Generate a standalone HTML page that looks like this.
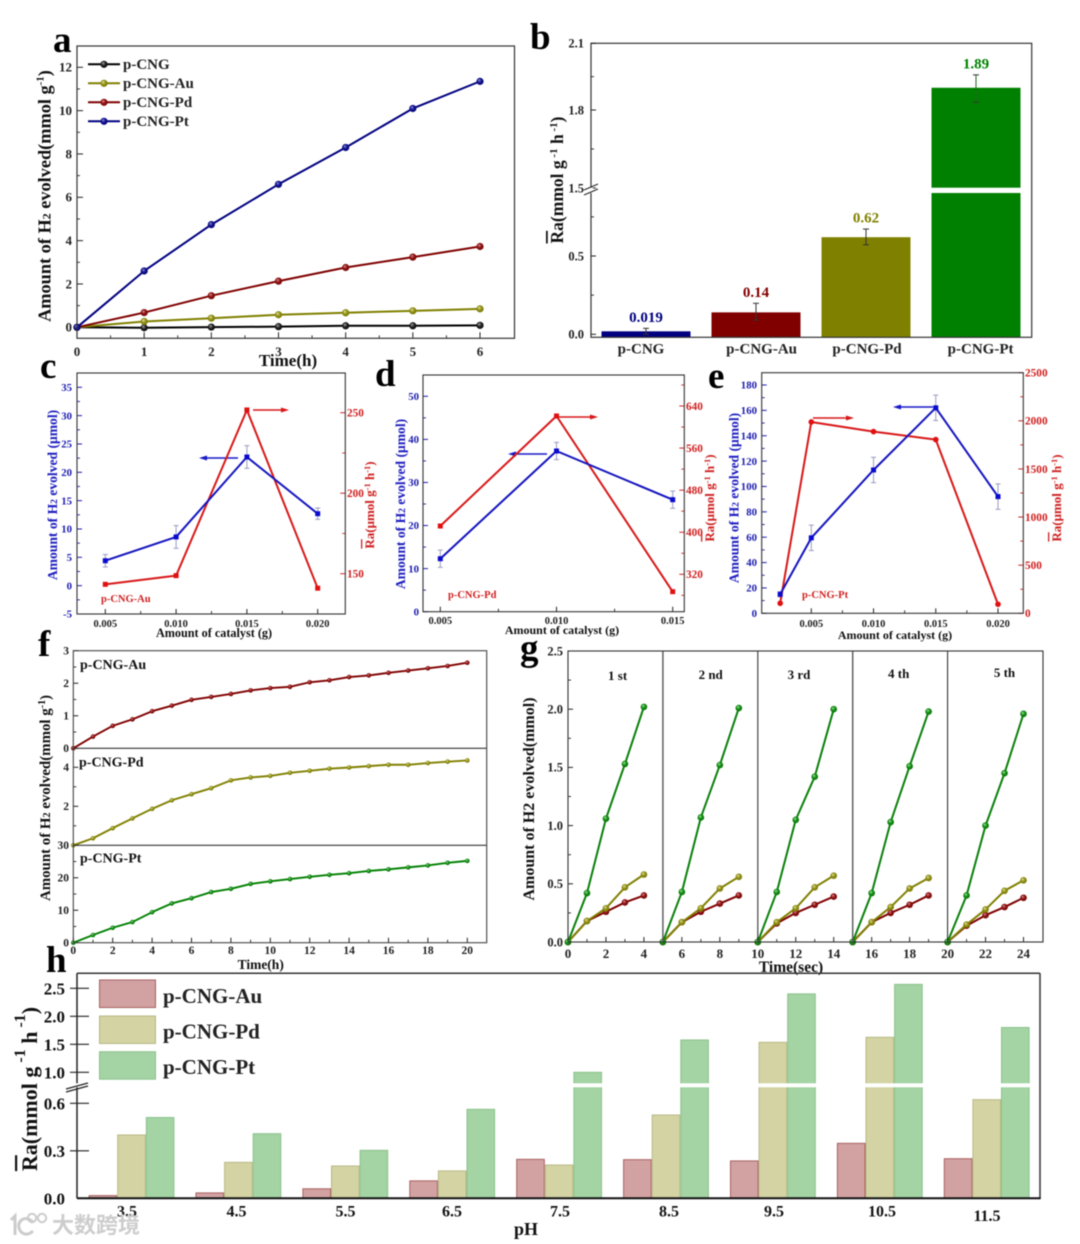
<!DOCTYPE html>
<html lang="en">
<head>
<meta charset="utf-8">
<title>Photocatalytic hydrogen evolution figure</title>
<style>
html,body{margin:0;padding:0;background:#fff;}
#figure{display:block;width:1080px;height:1244px;background:#fff;filter:blur(0.4px);}
#figure text{font-family:"Liberation Serif","Noto Serif CJK SC",serif;font-weight:bold;}
#figure text.wm{font-family:"Liberation Sans","Noto Sans CJK SC",sans-serif;font-weight:bold;}
</style>
</head>
<body>
<svg id="figure" xmlns="http://www.w3.org/2000/svg" width="1080" height="1244" viewBox="0 0 1080 1244">
<defs>
<radialGradient id="sphere-navy" cx="50%" cy="50%" r="60%" fx="35%" fy="30%"><stop offset="0" stop-color="#8f8fe0"/><stop offset="0.5" stop-color="#10108c"/><stop offset="1" stop-color="#000070"/></radialGradient>
<radialGradient id="sphere-maroon" cx="50%" cy="50%" r="60%" fx="35%" fy="30%"><stop offset="0" stop-color="#e09090"/><stop offset="0.5" stop-color="#8c1010"/><stop offset="1" stop-color="#700000"/></radialGradient>
<radialGradient id="sphere-olive" cx="50%" cy="50%" r="60%" fx="35%" fy="30%"><stop offset="0" stop-color="#e6e6a0"/><stop offset="0.5" stop-color="#8f8f14"/><stop offset="1" stop-color="#707000"/></radialGradient>
<radialGradient id="sphere-green" cx="50%" cy="50%" r="60%" fx="35%" fy="30%"><stop offset="0" stop-color="#a0e6a0"/><stop offset="0.5" stop-color="#128c12"/><stop offset="1" stop-color="#006c00"/></radialGradient>
<radialGradient id="sphere-black" cx="50%" cy="50%" r="60%" fx="35%" fy="30%"><stop offset="0" stop-color="#aaaaaa"/><stop offset="0.5" stop-color="#222222"/><stop offset="1" stop-color="#000000"/></radialGradient>
</defs>

<g id="panel-a">
<text x="53" y="52" font-size="37">a</text>
<text transform="translate(50.5,196) rotate(-90)" text-anchor="middle" font-size="18.3" fill="#111">Amount of H<tspan font-size="12">2</tspan> evolved(mmol g<tspan dy="-7" font-size="11">-1</tspan><tspan dy="7">)</tspan></text>
<text x="288" y="366" text-anchor="middle" font-size="17" fill="#111">Time(h)</text>
<g>
<line x1="88" y1="64.3" x2="120" y2="64.3" stroke="#000" stroke-width="2"/>
<circle cx="104" cy="64.3" r="3.6" fill="url(#sphere-black)"/>
<text x="123" y="68.8" font-size="15" fill="#222">p-CNG</text>
<line x1="88" y1="83.3" x2="120" y2="83.3" stroke="#808000" stroke-width="2"/>
<circle cx="104" cy="83.3" r="3.6" fill="url(#sphere-olive)"/>
<text x="123" y="87.8" font-size="15" fill="#222">p-CNG-Au</text>
<line x1="88" y1="102.3" x2="120" y2="102.3" stroke="#800000" stroke-width="2"/>
<circle cx="104" cy="102.3" r="3.6" fill="url(#sphere-maroon)"/>
<text x="123" y="106.8" font-size="15" fill="#222">p-CNG-Pd</text>
<line x1="88" y1="121.3" x2="120" y2="121.3" stroke="#000080" stroke-width="2"/>
<circle cx="104" cy="121.3" r="3.6" fill="url(#sphere-navy)"/>
<text x="123" y="125.8" font-size="15" fill="#222">p-CNG-Pt</text>
</g>
</g>

<g id="panel-b">
<text x="530" y="49" font-size="37">b</text>
<text transform="translate(563,180) rotate(-90)" text-anchor="middle" font-size="17.5" fill="#111"><tspan style="text-decoration:overline">R</tspan>a(mmol g<tspan dy="-6" font-size="11"> -1</tspan><tspan dy="6"> h</tspan><tspan dy="-6" font-size="11"> -1</tspan><tspan dy="6">)</tspan></text>
</g>

<g id="panel-c">
<text x="40" y="378" font-size="37">c</text>
<text transform="translate(57,495) rotate(-90)" text-anchor="middle" font-size="13.6" fill="#1c1cc0">Amount of  H<tspan font-size="9.5">2</tspan> evolved (μmol)</text>
<text transform="translate(374,505) rotate(-90)" text-anchor="middle" font-size="13" fill="#d02020"><tspan style="text-decoration:overline">R</tspan>a(μmol g<tspan dy="-4" font-size="8.5">-1</tspan><tspan dy="4"> h</tspan><tspan dy="-4" font-size="8.5">-1</tspan><tspan dy="4">)</tspan></text>
<text x="214" y="637" text-anchor="middle" font-size="12.2" fill="#111">Amount of catalyst (g)</text>
<text x="101" y="602" font-size="10.5" fill="#d02020">p-CNG-Au</text>
<g><line x1="253" y1="410" x2="282" y2="410" stroke="#d81818" stroke-width="1.4"/><polygon points="289,410 281,407.5 281,412.5" fill="#d81818"/></g>
<g><line x1="238" y1="458" x2="206" y2="458" stroke="#1818c8" stroke-width="1.4"/><polygon points="199,458 207,455.5 207,460.5" fill="#1818c8"/></g>
</g>

<g id="panel-d">
<text x="375" y="386" font-size="37">d</text>
<text transform="translate(405,504) rotate(-90)" text-anchor="middle" font-size="13.6" fill="#1c1cc0">Amount of  H<tspan font-size="9.5">2</tspan> evolved (μmol)</text>
<text transform="translate(714,498) rotate(-90)" text-anchor="middle" font-size="13" fill="#d02020"><tspan style="text-decoration:overline">R</tspan>a(μmol g<tspan dy="-4" font-size="8.5">-1</tspan><tspan dy="4"> h</tspan><tspan dy="-4" font-size="8.5">-1</tspan><tspan dy="4">)</tspan></text>
<text x="562" y="634" text-anchor="middle" font-size="12" fill="#111">Amount of catalyst (g)</text>
<text x="448" y="598" font-size="10.5" fill="#d02020">p-CNG-Pd</text>
<g><line x1="558" y1="417" x2="591" y2="417" stroke="#d81818" stroke-width="1.4"/><polygon points="598,417 590,414.5 590,419.5" fill="#d81818"/></g>
<g><line x1="547" y1="454" x2="515" y2="454" stroke="#1818c8" stroke-width="1.4"/><polygon points="508,454 516,451.5 516,456.5" fill="#1818c8"/></g>
</g>

<g id="panel-e">
<text x="708" y="388" font-size="37">e</text>
<text transform="translate(738.5,498) rotate(-90)" text-anchor="middle" font-size="13.6" fill="#1c1cc0">Amount of  H<tspan font-size="9.5">2</tspan> evolved (μmol)</text>
<text transform="translate(1061,498) rotate(-90)" text-anchor="middle" font-size="13" fill="#d02020"><tspan style="text-decoration:overline">R</tspan>a(μmol g<tspan dy="-4" font-size="8.5">-1</tspan><tspan dy="4"> h</tspan><tspan dy="-4" font-size="8.5">-1</tspan><tspan dy="4">)</tspan></text>
<text x="895" y="639" text-anchor="middle" font-size="12" fill="#111">Amount of catalyst (g)</text>
<text x="802" y="598" font-size="10.5" fill="#d02020">p-CNG-Pt</text>
<g><line x1="813" y1="418" x2="847" y2="418" stroke="#d81818" stroke-width="1.4"/><polygon points="854,418 846,415.5 846,420.5" fill="#d81818"/></g>
<g><line x1="933" y1="407" x2="900" y2="407" stroke="#1818c8" stroke-width="1.4"/><polygon points="893,407 901,404.5 901,409.5" fill="#1818c8"/></g>
</g>

<g id="panel-f">
<text x="38" y="656" font-size="37">f</text>
<text transform="translate(50,798) rotate(-90)" text-anchor="middle" font-size="14.9" fill="#111">Amount of H<tspan font-size="10">2</tspan> evolved(mmol g<tspan dy="-5" font-size="10">-1</tspan><tspan dy="5">)</tspan></text>
<text x="260.7" y="969" text-anchor="middle" font-size="13.5" fill="#111">Time(h)</text>
<text x="80" y="669" font-size="14" fill="#111">p-CNG-Au</text>
<text x="79" y="766.7" font-size="14" fill="#111">p-CNG-Pd</text>
<text x="80" y="862.7" font-size="14" fill="#111">p-CNG-Pt</text>
</g>

<g id="panel-g">
<text x="520" y="660" font-size="37">g</text>
<text transform="translate(534,799) rotate(-90)" text-anchor="middle" font-size="16" fill="#111">Amount of H2 evolved(mmol)</text>
<text x="791" y="972" text-anchor="middle" font-size="15.5" fill="#111">Time(sec)</text>
<text x="617.6" y="680" text-anchor="middle" font-size="13" fill="#111">1 st</text>
<text x="710.7" y="679" text-anchor="middle" font-size="13" fill="#111">2 nd</text>
<text x="799" y="679" text-anchor="middle" font-size="13" fill="#111">3 rd</text>
<text x="898.7" y="678" text-anchor="middle" font-size="13" fill="#111">4 th</text>
<text x="1004.5" y="677" text-anchor="middle" font-size="13" fill="#111">5 th</text>
</g>

<g id="panel-h">
<text x="46" y="972" font-size="37">h</text>
<text transform="translate(37,1089) rotate(-90)" text-anchor="middle" font-size="22" fill="#111"><tspan style="text-decoration:overline">R</tspan>a(mmol g<tspan dy="-12" font-size="16"> -1</tspan><tspan dy="12"> h</tspan><tspan dy="-12" font-size="16"> -1</tspan><tspan dy="12">)</tspan></text>
<text x="526" y="1235" text-anchor="middle" font-size="18" fill="#111">pH</text>
</g>

<g id="watermark">
<path d="M11 1220 L15 1216 L15 1235 M33 1222 C24 1214 17 1222 19 1228 C21 1235 28 1236 33 1231" fill="none" stroke="#cccccc" stroke-width="3"/>
<circle cx="32" cy="1218" r="4.2" fill="none" stroke="#cccccc" stroke-width="2"/>
<circle cx="42" cy="1218" r="4.2" fill="none" stroke="#cccccc" stroke-width="2"/>
<text class="wm" x="52" y="1233" font-size="22" fill="#cdcdcd">大数跨境</text>
</g>
</svg>

<script>
/* ---------- panel a data ---------- */
const aTime = [0, 1, 2, 3, 4, 5, 6];
const aCng = [0, -0.02, 0.01, 0.03, 0.07, 0.07, 0.09];
const aAu = [0, 0.27, 0.42, 0.58, 0.67, 0.76, 0.85];
const aPd = [0, 0.68, 1.46, 2.13, 2.76, 3.24, 3.73];
const aPt = [0, 2.6, 4.74, 6.6, 8.3, 10.1, 11.35];
const aYTicks = [0, 2, 4, 6, 8, 10, 12];
const aYMinor = [1, 3, 5, 7, 9, 11];
const aXTicks = [0, 1, 2, 3, 4, 5, 6];
const aXMinor = [0.5, 1.5, 2.5, 3.5, 4.5, 5.5];

/* ---------- panel b data ---------- */
const bCategories = ['p-CNG', 'p-CNG-Au', 'p-CNG-Pd', 'p-CNG-Pt'];
const bHeights = [0.019, 0.14, 0.62, 1.9];
const bPrinted = ['0.019', '0.14', '0.62', '1.89'];
const bErrHigh = [0.038, 0.198, 0.672, 1.958];
const bErrLow = [0, 0.091, 0.572, 1.835];
const bYLowTicks = [0, 0.5];
const bYLowLabels = ['0.0', '0.5'];
const bYLowMinor = [0.25, 0.75];
const bYHighTicks = [1.5, 1.8, 2.1];
const bYHighLabels = ['1.5', '1.8', '2.1'];
const bYHighMinor = [1.65, 1.95];

/* ---------- panel c data ---------- */
const cCatalyst = [0.005, 0.01, 0.015, 0.02];
const cAmount = [4.4, 8.6, 22.7, 12.7];
const cAmountErr = [1.1, 2, 2, 1];
const cRate = [143.4, 148.8, 251.7, 141];
const cLeftTicks = [-5, 0, 5, 10, 15, 20, 25, 30, 35];
const cLeftMinor = [-2.5, 2.5, 7.5, 12.5, 17.5, 22.5, 27.5, 32.5];
const cRightTicks = [150, 200, 250];
const cRightMinor = [175, 225];
const cXLabels = ['0.005', '0.010', '0.015', '0.020'];
const cXMinor = [0.0075, 0.0125, 0.0175];

/* ---------- panel d data ---------- */
const dCatalyst = [0.005, 0.01, 0.015];
const dAmount = [12.3, 37.3, 26];
const dAmountErr = [2, 2, 2];
const dRate = [411.8, 621, 287];
const dLeftTicks = [0, 10, 20, 30, 40, 50];
const dLeftMinor = [5, 15, 25, 35, 45];
const dRightTicks = [320, 400, 480, 560, 640];
const dRightMinor = [280, 360, 440, 520, 600, 680];
const dXLabels = ['0.005', '0.010', '0.015'];
const dXMinor = [0.0075, 0.0125];

/* ---------- panel e data ---------- */
const eCatalyst = [0.0025, 0.005, 0.01, 0.015, 0.02];
const eAmount = [15, 59.5, 113, 162, 92];
const eAmountErr = [2, 10, 10, 10, 10];
const eRate = [104, 1988, 1888, 1805, 94];
const eLeftTicks = [0, 20, 40, 60, 80, 100, 120, 140, 160, 180];
const eLeftMinor = [10, 30, 50, 70, 90, 110, 130, 150, 170];
const eRightTicks = [0, 500, 1000, 1500, 2000, 2500];
const eRightMinor = [250, 750, 1250, 1750, 2250];
const eXTicks = [0.005, 0.01, 0.015, 0.02];
const eXLabels = ['0.005', '0.010', '0.015', '0.020'];
const eXMinor = [0.0075, 0.0125, 0.0175];

/* ---------- panel f data ---------- */
const fTime = [0, 1, 2, 3, 4, 5, 6, 7, 8, 9, 10, 11, 12, 13, 14, 15, 16, 17, 18, 19, 20];
const fAu = [0, 0.36, 0.69, 0.89, 1.14, 1.31, 1.49, 1.58, 1.67, 1.78, 1.85, 1.89, 2.03, 2.09, 2.19, 2.24, 2.32, 2.39, 2.46, 2.53, 2.63];
const fPd = [0, 0.36, 0.88, 1.38, 1.87, 2.31, 2.62, 2.93, 3.33, 3.48, 3.56, 3.72, 3.82, 3.93, 3.99, 4.06, 4.13, 4.13, 4.22, 4.29, 4.35];
const fPt = [0, 2.36, 4.6, 6.36, 9.4, 12.1, 13.7, 15.6, 16.6, 18.1, 18.9, 19.6, 20.3, 20.9, 21.4, 22.1, 22.6, 23.2, 23.8, 24.6, 25.2];
const fXTicks = [0, 2, 4, 6, 8, 10, 12, 14, 16, 18, 20];
const fXMinor = [1, 3, 5, 7, 9, 11, 13, 15, 17, 19];
const fAuTicks = [0, 1, 2, 3];
const fAuMinor = [0.5, 1.5, 2.5];
const fPdTicks = [0, 2, 4];
const fPdLabels = ['', '2', '4'];
const fPdMinor = [1, 3];
const fPtTicks = [0, 10, 20, 30];
const fPtMinor = [5, 15, 25];

/* ---------- panel g data ---------- */
const gCycleStart = [0, 5, 10, 15, 20];
const gPt = [
  [0, 0.42, 1.06, 1.53, 2.02],
  [0, 0.43, 1.07, 1.52, 2.01],
  [0, 0.43, 1.05, 1.42, 2.0],
  [0, 0.42, 1.03, 1.51, 1.98],
  [0, 0.4, 1.0, 1.45, 1.96]
];
const gPd = [
  [0, 0.18, 0.29, 0.47, 0.58],
  [0, 0.17, 0.29, 0.46, 0.56],
  [0, 0.17, 0.29, 0.47, 0.57],
  [0, 0.17, 0.3, 0.46, 0.55],
  [0, 0.15, 0.28, 0.44, 0.53]
];
const gAu = [
  [0, 0.18, 0.26, 0.34, 0.4],
  [0, 0.17, 0.26, 0.33, 0.4],
  [0, 0.16, 0.25, 0.32, 0.39],
  [0, 0.17, 0.25, 0.32, 0.4],
  [0, 0.14, 0.23, 0.3, 0.38]
];
const gYTicks = [0, 0.5, 1, 1.5, 2, 2.5];
const gYLabels = ['0.0', '0.5', '1.0', '1.5', '2.0', '2.5'];
const gYMinor = [0.25, 0.75, 1.25, 1.75, 2.25];
const gXTicks = [0, 2, 4, 6, 8, 10, 12, 14, 16, 18, 20, 22, 24];
const gXMinor = [1, 3, 5, 7, 9, 11, 13, 15, 17, 19, 21, 23];

/* ---------- panel h data ---------- */
const hPh = ['3.5', '4.5', '5.5', '6.5', '7.5', '8.5', '9.5', '10.5', '11.5'];
const hAu = [0.017, 0.034, 0.06, 0.11, 0.246, 0.244, 0.236, 0.347, 0.25];
const hPd = [0.4, 0.227, 0.204, 0.173, 0.21, 0.526, 1.535, 1.625, 0.623];
const hPt = [0.51, 0.408, 0.303, 0.562, 1.0, 1.577, 2.4, 2.57, 1.8];
const hYLowTicks = [0, 0.3, 0.6];
const hYLowLabels = ['0.0', '0.3', '0.6'];
const hYHighTicks = [1, 1.5, 2, 2.5];
const hYHighLabels = ['1.0', '1.5', '2.0', '2.5'];
const hSeriesNames = ['p-CNG-Au', 'p-CNG-Pd', 'p-CNG-Pt'];

/* ---------- helpers ---------- */
const NS = 'http://www.w3.org/2000/svg';
function make(tag, parent, name, attrs) {
  const e = document.createElementNS(NS, tag);
  
  
  for (const k in attrs) e.setAttribute(k, attrs[k]);
  parent.appendChild(e);
  return e;
}
function linear(d0, d1, r0, r1) {
  return function (v) { return r0 + (v - d0) * (r1 - r0) / (d1 - d0); };
}
function rule(parent, name, x1, y1, x2, y2, stroke, w) {
  return make('line', parent, name, { x1: x1, y1: y1, x2: x2, y2: y2, stroke: stroke, 'stroke-width': w });
}
function label(parent, name, x, y, str, size, fill, anchor) {
  const t = make('text', parent, name, { x: x, y: y, 'font-size': size, fill: fill, 'text-anchor': anchor });
  t.textContent = str;
  return t;
}
function frame(parent, l, t, r, b, stroke, w) {
  make('rect', parent, 'plot-frame', { x: l, y: t, width: r - l, height: b - t, fill: 'none', stroke: stroke, 'stroke-width': w });
}
function yAxis(parent, prefix, scale, majors, labels, minors, axisX, dir, labelX, anchor, size, color, mj, mn) {
  majors.forEach(function (v, i) {
    rule(parent, prefix + '-tick', axisX, scale(v), axisX + dir * mj, scale(v), color, 1);
    if (labels[i] !== '') label(parent, prefix + '-tick-label', labelX, scale(v) + size * 0.34, labels[i], size, color, anchor);
  });
  minors.forEach(function (v) {
    rule(parent, prefix + '-minor-tick', axisX, scale(v), axisX + dir * mn, scale(v), color, 0.9);
  });
}
function xAxis(parent, prefix, scale, majors, labels, minors, axisY, labelY, size, color, mj, mn) {
  majors.forEach(function (v, i) {
    rule(parent, prefix + '-tick', scale(v), axisY, scale(v), axisY - mj, color, 1);
    label(parent, prefix + '-tick-label', scale(v), labelY, labels[i], size, color, 'middle');
  });
  minors.forEach(function (v) {
    rule(parent, prefix + '-minor-tick', scale(v), axisY, scale(v), axisY - mn, color, 0.9);
  });
}
function polyline(parent, name, xs, ys, sx, sy, color, w) {
  const pts = xs.map(function (x, i) { return sx(x).toFixed(2) + ',' + sy(ys[i]).toFixed(2); }).join(' ');
  make('polyline', parent, name, { points: pts, fill: 'none', stroke: color, 'stroke-width': w, 'stroke-linejoin': 'round' });
}
function spheres(parent, name, xs, ys, sx, sy, grad, r) {
  xs.forEach(function (x, i) {
    make('circle', parent, name, { cx: sx(x), cy: sy(ys[i]), r: r, fill: 'url(#' + grad + ')' });
  });
}
function squares(parent, name, xs, ys, sx, sy, color, s) {
  xs.forEach(function (x, i) {
    make('rect', parent, name, { x: sx(x) - s / 2, y: sy(ys[i]) - s / 2, width: s, height: s, fill: color });
  });
}
function errorBars(parent, name, xs, ys, errs, sx, sy, color, cap) {
  xs.forEach(function (x, i) {
    const cx = sx(x), hi = sy(ys[i] + errs[i]), lo = sy(ys[i] - errs[i]);
    rule(parent, name, cx, hi, cx, lo, color, 1);
    rule(parent, name + '-cap-top', cx - cap, hi, cx + cap, hi, color, 1);
    rule(parent, name + '-cap-bottom', cx - cap, lo, cx + cap, lo, color, 1);
  });
}
function fmt(list) { return list.map(String); }

/* ---------- panel a ---------- */
(function () {
  const g = document.getElementById('panel-a');
  const sx = linear(0, 6, 77, 480);
  const sy = linear(0, 12, 327.3, 67.3);
  yAxis(g, 'y-axis', sy, aYTicks, fmt(aYTicks), aYMinor, 77, 1, 72, 'end', 13, '#222', 6, 3);
  xAxis(g, 'x-axis', sx, aXTicks, fmt(aXTicks), aXMinor, 338.3, 356, 13, '#222', 6, 3);
  polyline(g, 'series-p-cng', aTime, aCng, sx, sy, '#000', 2);
  spheres(g, 'point-p-cng', aTime, aCng, sx, sy, 'sphere-black', 3.6);
  polyline(g, 'series-p-cng-au', aTime, aAu, sx, sy, '#808000', 2);
  spheres(g, 'point-p-cng-au', aTime, aAu, sx, sy, 'sphere-olive', 3.6);
  polyline(g, 'series-p-cng-pd', aTime, aPd, sx, sy, '#800000', 2);
  spheres(g, 'point-p-cng-pd', aTime, aPd, sx, sy, 'sphere-maroon', 3.6);
  polyline(g, 'series-p-cng-pt', aTime, aPt, sx, sy, '#000080', 2);
  spheres(g, 'point-p-cng-pt', aTime, aPt, sx, sy, 'sphere-navy', 3.6);
  frame(g, 77, 46, 514.5, 338.3, '#333', 1.2);
})();

/* ---------- panel b ---------- */
(function () {
  const g = document.getElementById('panel-b');
  const L = 591, R = 1031.7, T = 43.3, B = 337.3;
  const low = linear(0, 0.5, 334.3, 256);
  const midHigh = linear(1.5, 1.8, 188, 110);
  const topHigh = linear(1.8, 2.1, 110, 43.3);
  const high = function (v) { return v >= 1.8 ? topHigh(v) : midHigh(v); };
  const sy = function (v) { return v <= 1.4 ? low(v) : high(v); };
  const sx = function (i) { return 646 + i * 110; };
  const colors = ['#000080', '#800000', '#808000', '#008000'];
  bHeights.forEach(function (v, i) {
    const top = sy(v);
    make('rect', g, 'bar-' + bCategories[i], { x: sx(i) - 44.5, y: top, width: 89, height: B - top, fill: colors[i] });
    rule(g, 'error-bar', sx(i), sy(bErrHigh[i]), sx(i), sy(bErrLow[i]), i === 3 ? '#1f6a1f' : '#333', 1);
    rule(g, 'error-cap-top', sx(i) - 3, sy(bErrHigh[i]), sx(i) + 3, sy(bErrHigh[i]), '#333', 1);
    rule(g, 'error-cap-bottom', sx(i) - 3, sy(bErrLow[i]), sx(i) + 3, sy(bErrLow[i]), '#333', 1);
    label(g, 'value-label-' + bCategories[i], sx(i), sy(bErrHigh[i]) - 6.5, bPrinted[i], 15, colors[i], 'middle');
  });
  make('rect', g, 'axis-break-gap', { x: 925, y: 187.7, width: 102, height: 5.3, fill: '#fff' });
  const catX = [641, 761.6, 867, 980.6];
  bCategories.forEach(function (c, i) {
    label(g, 'category-label-' + c, catX[i], 353.5, c, 15, '#222', 'middle');
  });
  frame(g, L, T, R, B, '#333', 1.2);
  yAxis(g, 'y-axis', low, bYLowTicks, bYLowLabels, bYLowMinor, L, 1, 584, 'end', 12.5, '#222', 5, 3);
  yAxis(g, 'y-axis', high, bYHighTicks, bYHighLabels, bYHighMinor, L, 1, 584, 'end', 12.5, '#222', 5, 3);
  make('rect', g, 'axis-break-whiteout', { x: 589, y: 187.7, width: 4, height: 5.3, fill: '#fff' });
  rule(g, 'axis-break-mark', 584, 190, 598, 184, '#222', 1);
  rule(g, 'axis-break-mark', 584, 195, 598, 189, '#222', 1);
})();

/* ---------- dual axis panels c d e ---------- */
function dualPanel(id, box, xMap, leftMap, rightMap, cat, amount, err, rate, leftTicks, leftMinor, rightTicks, rightMinor, xTicks, xLabels, xMinor, pos, roundRed) {
  const g = document.getElementById(id);
  const sx = linear(xMap[0], xMap[1], xMap[2], xMap[3]);
  const sl = linear(leftMap[0], leftMap[1], leftMap[2], leftMap[3]);
  const sr = linear(rightMap[0], rightMap[1], rightMap[2], rightMap[3]);
  yAxis(g, 'left-y-axis', sl, leftTicks, fmt(leftTicks), leftMinor, box[0], 1, pos[0], 'end', 10.8, '#1c1cb0', 5, 3);
  yAxis(g, 'right-y-axis', sr, rightTicks, fmt(rightTicks), rightMinor, box[2], -1, pos[1], 'start', 11.3, '#d02020', 5, 3);
  xAxis(g, 'x-axis', sx, xTicks, xLabels, xMinor, box[3], pos[2], 10.5, '#222', 5, 3);
  errorBars(g, 'amount-error-bar', cat, amount, err, sx, sl, '#9a9ac4', 2.5);
  polyline(g, 'rate-line', cat, rate, sx, sr, '#d81818', 2);
  polyline(g, 'amount-line', cat, amount, sx, sl, '#1414c0', 2);
  squares(g, 'amount-point', cat, amount, sx, sl, '#0a0ad0', 5);
  if (roundRed) {
    cat.forEach(function (x, i) {
      make('circle', g, 'rate-point', { cx: sx(x), cy: sr(rate[i]), r: 2.8, fill: '#e01010' });
    });
  } else {
    squares(g, 'rate-point', cat, rate, sx, sr, '#e01010', 5);
  }
  frame(g, box[0], box[1], box[2], box[3], '#333', 1.1);
}
dualPanel('panel-c', [77, 373, 345.3, 614], [0.005, 0.02, 105.3, 317.7], [-5, 35, 614, 387.3], [150, 250, 573.7, 412.7],
  cCatalyst, cAmount, cAmountErr, cRate, cLeftTicks, cLeftMinor, cRightTicks, cRightMinor, cCatalyst, cXLabels, cXMinor, [72, 347, 627], false);
dualPanel('panel-d', [423, 375, 684.3, 611.7], [0.005, 0.015, 440.3, 672.7], [0, 50, 611.7, 396.3], [320, 640, 574.3, 406],
  dCatalyst, dAmount, dAmountErr, dRate, dLeftTicks, dLeftMinor, dRightTicks, dRightMinor, dCatalyst, dXLabels, dXMinor, [419, 686, 624], false);
dualPanel('panel-e', [761.7, 372.7, 1023.3, 613.3], [0.005, 0.02, 811.3, 998], [0, 180, 613.3, 385], [0, 2500, 613.3, 372.7],
  eCatalyst, eAmount, eAmountErr, eRate, eLeftTicks, eLeftMinor, eRightTicks, eRightMinor, eXTicks, eXLabels, eXMinor, [757, 1025, 627], true);

/* ---------- panel f ---------- */
(function () {
  const g = document.getElementById('panel-f');
  const L = 73.3, R = 486.7, T = 650.7, B = 942.7, D1 = 748.3, D2 = 845.3;
  const sx = linear(0, 20, L, 467.3);
  const s1 = linear(0, 3, D1, T);
  const s2 = linear(0, 4, D2, 767.3);
  const s3 = linear(0, 30, B, D2);
  yAxis(g, 'au-y-axis', s1, fAuTicks, fmt(fAuTicks), fAuMinor, L, 1, 69, 'end', 11.5, '#222', 5, 3);
  yAxis(g, 'pd-y-axis', s2, fPdTicks, fPdLabels, fPdMinor, L, 1, 69, 'end', 11.5, '#222', 5, 3);
  yAxis(g, 'pt-y-axis', s3, fPtTicks, fmt(fPtTicks), fPtMinor, L, 1, 69, 'end', 11.5, '#222', 5, 3);
  xAxis(g, 'x-axis', sx, fXTicks, fmt(fXTicks), fXMinor, B, 954, 11.5, '#222', 5, 3);
  polyline(g, 'series-p-cng-au', fTime, fAu, sx, s1, '#800000', 1.9);
  spheres(g, 'point-p-cng-au', fTime, fAu, sx, s1, 'sphere-maroon', 2.3);
  polyline(g, 'series-p-cng-pd', fTime, fPd, sx, s2, '#808000', 1.9);
  spheres(g, 'point-p-cng-pd', fTime, fPd, sx, s2, 'sphere-olive', 2.3);
  polyline(g, 'series-p-cng-pt', fTime, fPt, sx, s3, '#008000', 1.9);
  spheres(g, 'point-p-cng-pt', fTime, fPt, sx, s3, 'sphere-green', 2.3);
  rule(g, 'subplot-divider', L, D1, R, D1, '#333', 1.1);
  rule(g, 'subplot-divider', L, D2, R, D2, '#333', 1.1);
  frame(g, L, T, R, B, '#444', 1.1);
})();

/* ---------- panel g ---------- */
(function () {
  const g = document.getElementById('panel-g');
  const L = 568, R = 1043, T = 651, B = 942;
  const sx = linear(0, 24, L, 1023.5);
  const sy = linear(0, 2.5, B, T);
  yAxis(g, 'y-axis', sy, gYTicks, gYLabels, gYMinor, L, 1, 563, 'end', 12.5, '#222', 5, 3);
  xAxis(g, 'x-axis', sx, gXTicks, fmt(gXTicks), gXMinor, B, 958, 13, '#222', 5, 3);
  gCycleStart.forEach(function (start, c) {
    const xs = [0, 1, 2, 3, 4].map(function (d) { return start + d; });
    polyline(g, 'cycle-' + (c + 1) + '-au-line', xs, gAu[c], sx, sy, '#800000', 2);
    spheres(g, 'cycle-' + (c + 1) + '-au-point', xs, gAu[c], sx, sy, 'sphere-maroon', 3.3);
    polyline(g, 'cycle-' + (c + 1) + '-pd-line', xs, gPd[c], sx, sy, '#808000', 2);
    spheres(g, 'cycle-' + (c + 1) + '-pd-point', xs, gPd[c], sx, sy, 'sphere-olive', 3.3);
    polyline(g, 'cycle-' + (c + 1) + '-pt-line', xs, gPt[c], sx, sy, '#0a800a', 2);
    spheres(g, 'cycle-' + (c + 1) + '-pt-point', xs, gPt[c], sx, sy, 'sphere-green', 3.3);
    if (c > 0) rule(g, 'cycle-divider', sx(start), T, sx(start), B, c % 2 ? '#555' : '#222', c % 2 ? 1.4 : 1);
  });
  frame(g, L, T, R, B, '#333', 1.1);
})();

/* ---------- panel h ---------- */
(function () {
  const g = document.getElementById('panel-h');
  const L = 77, R = 1040, T = 973.3, B = 1198.3;
  const low = linear(0, 0.6, B, 1103.3);
  const high = linear(1, 2.5, 1072.3, 988.3);
  const sy = function (v) { return v <= 0.74 ? low(v) : high(v); };
  const center = function (i) { return 131.5 + i * 106.9; };
  const W = 28.6;
  const series = [
    { name: 'au', vals: hAu, off: -W, fill: '#d2a2a2', edge: '#a86060' },
    { name: 'pd', vals: hPd, off: 0, fill: '#d3d3a3', edge: '#b9b985' },
    { name: 'pt', vals: hPt, off: W, fill: '#a4d3a4', edge: '#8cc28c' }
  ];
  series.forEach(function (s) {
    s.vals.forEach(function (v, i) {
      const x = center(i) + s.off - W / 2;
      make('rect', g, 'bar-' + s.name + '-ph-' + hPh[i], { x: x + 0.5, y: sy(v), width: W - 1, height: B - sy(v), fill: s.fill, stroke: s.edge, 'stroke-width': 1 });
    });
  });
  make('rect', g, 'axis-break-gap', { x: L + 2, y: 1083.3, width: R - L - 4, height: 4, fill: '#fff' });
  const phLabelX = [127, 236.5, 345.5, 452, 560, 669, 774, 882, 987];
  const phLabelY = [1216.7, 1216.7, 1216.7, 1216.7, 1216.7, 1216.7, 1216.7, 1216.7, 1221];
  hPh.forEach(function (p, i) {
    label(g, 'ph-tick-label', phLabelX[i], phLabelY[i], p, 16, '#111', 'middle');
  });
  rule(g, 'top-axis', L, T, R, T, '#333', 1.5);
  rule(g, 'right-axis', R, T, R, B, '#333', 1.5);
  rule(g, 'left-axis-upper', L, T, L, 1083.3, '#222', 1.5);
  rule(g, 'left-axis-lower', L, 1087.3, L, B, '#222', 1.5);
  rule(g, 'bottom-axis', L, B, R + 0.7, B, '#111', 2);
  hYHighTicks.forEach(function (v, i) {
    rule(g, 'y-axis-tick', 70, high(v), 89, high(v), '#222', 1.2);
    label(g, 'y-axis-tick-label', 65, high(v) + 6, hYHighLabels[i], 17, '#111', 'end');
  });
  hYLowTicks.forEach(function (v, i) {
    if (i > 0) rule(g, 'y-axis-tick', 70, low(v), 89, low(v), '#222', 1.2);
    label(g, 'y-axis-tick-label', 65, low(v) + 6, hYLowLabels[i], 17, '#111', 'end');
  });
  rule(g, 'axis-break-mark', 66, 1089, 88, 1083, '#222', 1.2);
  rule(g, 'axis-break-mark', 66, 1092, 88, 1086, '#222', 1.2);
  const swatchY = [980, 1016, 1051.7];
  const swatchText = [1003, 1038.5, 1074];
  series.forEach(function (s, i) {
    make('rect', g, 'legend-swatch-' + s.name, { x: 99.5, y: swatchY[i], width: 56, height: 27.5, fill: s.fill, stroke: s.edge, 'stroke-width': 1 });
    label(g, 'legend-label-' + s.name, 163, swatchText[i], hSeriesNames[i], 21, '#222', 'start');
  });
})();
</script>
</body>
</html>
